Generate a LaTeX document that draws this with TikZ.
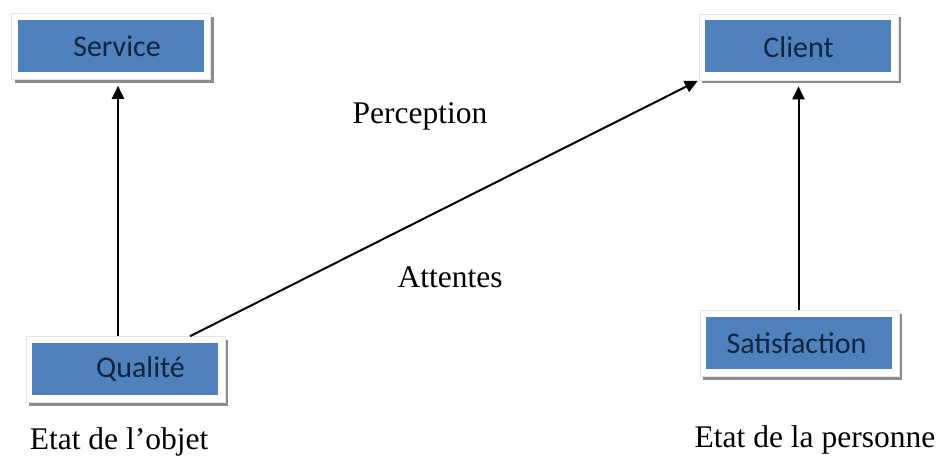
\documentclass[tikz,border=0pt]{standalone}
\usepackage{fontspec}
\setmainfont{Liberation Serif}
\newfontfamily\boxfont{Carlito}
\usetikzlibrary{arrows.meta,shadows}
\definecolor{boxblue}{HTML}{4F81BD}
\definecolor{boxtext}{HTML}{10253F}
\begin{document}
\begin{tikzpicture}[x=1pt,y=-1pt,
    box/.style={fill=white, draw=black!10, line width=0.6pt, minimum width=199pt, minimum height=66pt, inner sep=0pt,
        drop shadow={shadow xshift=3pt, shadow yshift=-3pt, fill=black!45, opacity=1},
        font=\boxfont\fontsize{30}{35}\selectfont, text=boxtext,
        path picture={\fill[boxblue] ([shift={(6pt,8pt)}]path picture bounding box.south west)
            rectangle ([shift={(-7pt,-6pt)}]path picture bounding box.north east);}},
    lbl/.style={font=\fontsize{31.5}{36}\selectfont, anchor=base},
    arr/.style={-{Triangle[length=13pt,width=12pt]}, line width=2pt}]
    \useasboundingbox (0,0) rectangle (942,456);
    \node[box] (serv) at (111,46.5) {\hspace*{12pt}Service};
    \node[box] (cli) at (798.5,47) {Client};
    \node[box] (qual) at (125.5,369.5) {\hspace*{30pt}Qualité};
    \node[box] (sat) at (799.5,343.5) {\hspace*{-6pt}Satisfaction};
    \node[lbl] (obj) at (119,449) {Etat de l’objet};
    \node[lbl] (pers) at (815,447) {Etat de la personne};
    \node[lbl] (perc) at (420,123) {Perception};
    \node[lbl] (att) at (450,287) {Attentes};
    \draw[arr, shorten >=6pt] ([xshift=-7.5pt]qual.north) -- ([xshift=7pt]serv.south);
    \draw[arr, shorten >=6pt] (sat.north -| cli.south) -- (cli.south);
    \draw[arr, shorten >=1pt] ([xshift=64.5pt]qual.north) -- (cli.south west);
\end{tikzpicture}
\end{document}
